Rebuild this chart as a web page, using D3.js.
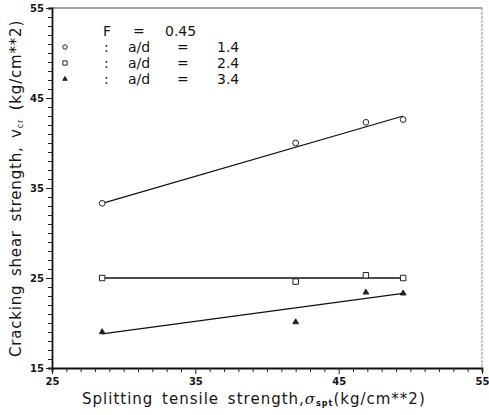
<!DOCTYPE html>
<html>
<head>
<meta charset="utf-8">
<script src="https://cdn.jsdelivr.net/npm/d3@7"></script>
<style>
  html, body { margin: 0; padding: 0; background: #fff; }
  svg { display: block; }
  text { font-family: "DejaVu Sans", "Liberation Sans", sans-serif; fill: #151515; }
</style>
</head>
<body>
<svg id="chart" width="489" height="415"></svg>
<script>
// Splitting tensile strength (kg/cm**2) of the tested beams
const xValues = [28.5, 42.0, 46.9, 49.5];

// Cracking shear strength (kg/cm**2) for each shear span ratio
const ratios = [1.4, 2.4, 3.4];
const shearAD14 = [33.3, 40.0, 42.3, 42.6];
const shearAD24 = [25.0, 24.6, 25.3, 25.0];
const shearAD34 = [19.0, 20.1, 23.4, 23.3];

// Fitted straight lines: value at first and last tensile strength
const fitX = [28.5, 49.5];
const fitAD14 = [33.3, 43.0];
const fitAD24 = [25.0, 25.0];
const fitAD34 = [18.8, 23.3];

const fiberFactor = 0.45;
const xTicks = [25, 35, 45, 55];
const yTicks = [15, 25, 35, 45, 55];

const svg = d3.select("#chart");
const plotLeft = 52, plotRight = 482, plotTop = 8, plotBottom = 368;

const x = d3.scaleLinear().domain([25, 55]).range([plotLeft, plotRight]);
const y = d3.scaleLinear().domain([15, 55]).range([plotBottom, plotTop]);

// Frame: top and right edges are lighter
svg.append("line").attr("x1", plotLeft).attr("x2", plotRight).attr("y1", plotTop).attr("y2", plotTop)
  .attr("stroke", "#444").attr("stroke-width", 1.2);
svg.append("line").attr("x1", plotRight).attr("x2", plotRight).attr("y1", plotTop).attr("y2", plotBottom)
  .attr("stroke", "#888").attr("stroke-width", 1).attr("stroke-dasharray", "3,1");

// Axes with unit minor ticks
const xAxis = d3.axisBottom(x).tickValues(d3.range(25, 56, 1))
  .tickFormat(d => xTicks.includes(d) ? d : "").tickSize(4).tickPadding(6);
const yAxis = d3.axisLeft(y).tickValues(d3.range(15, 56, 1))
  .tickFormat(d => yTicks.includes(d) ? d : "").tickSize(4).tickPadding(4);

const gx = svg.append("g").attr("transform", `translate(0,${plotBottom})`).call(xAxis);
const gy = svg.append("g").attr("transform", `translate(${plotLeft},0)`).call(yAxis);
[gx, gy].forEach(g => {
  g.select(".domain").attr("stroke", "#111").attr("stroke-width", 1.8);
  g.selectAll(".tick line").attr("stroke", "#222").attr("stroke-width", 1);
  g.selectAll(".tick text").attr("font-size", 10).attr("font-weight", "bold")
    .attr("font-family", "DejaVu Sans, sans-serif").attr("fill", "#222");
});
gx.selectAll(".tick").filter(d => xTicks.includes(d)).select("line").attr("y2", 6);
gy.selectAll(".tick").filter(d => yTicks.includes(d)).select("line").attr("x2", -6);

// Fitted lines
const fits = [fitAD14, fitAD24, fitAD34];
const line = d3.line().x(d => x(d[0])).y(d => y(d[1]));
fits.forEach(f => {
  svg.append("path").datum(fitX.map((v, i) => [v, f[i]]))
    .attr("d", line).attr("fill", "none").attr("stroke", "#111").attr("stroke-width", 1.3);
});

// Data markers
const series = [
  { values: shearAD14, symbol: d3.symbolCircle, size: 26, fill: "#fff" },
  { values: shearAD24, symbol: d3.symbolSquare, size: 30, fill: "#fff" },
  { values: shearAD34, symbol: d3.symbolTriangle, size: 14, fill: "#222" }
];
series.forEach(s => {
  svg.append("g").selectAll("path").data(s.values).join("path")
    .attr("transform", (d, i) => `translate(${x(xValues[i])},${y(d)})`)
    .attr("d", d3.symbol().type(s.symbol).size(s.size))
    .attr("fill", s.fill).attr("stroke", "#222").attr("stroke-width", 1);
});

// Legend
const lg = svg.append("g").attr("font-size", 14).attr("fill", "#151515");
lg.append("text").attr("x", 103).attr("y", 36).text("F");
lg.append("text").attr("x", 133).attr("y", 36).text("=");
lg.append("text").attr("x", 165).attr("y", 36).text(fiberFactor.toFixed(2));
const rowY = [52, 68, 84];
series.forEach((s, i) => {
  lg.append("path").attr("transform", `translate(65,${rowY[i] - 5})`)
    .attr("d", d3.symbol().type(s.symbol).size(s.size * 0.6))
    .attr("fill", s.fill).attr("stroke", "#222").attr("stroke-width", 1);
  lg.append("text").attr("x", 104).attr("y", rowY[i]).text(":");
  lg.append("text").attr("x", 128).attr("y", rowY[i]).text("a/d");
  lg.append("text").attr("x", 177).attr("y", rowY[i]).text("=");
  lg.append("text").attr("x", 217).attr("y", rowY[i]).text(ratios[i].toFixed(1));
});

// Axis titles
const xt = svg.append("text").attr("x", 82).attr("y", 404).attr("font-size", 15)
  .attr("letter-spacing", 1).attr("word-spacing", 3);
xt.append("tspan").text("Splitting tensile strength,");
xt.append("tspan").attr("font-style", "italic").attr("font-family", "DejaVu Serif, serif").text("σ");
xt.append("tspan").attr("font-size", 8).attr("font-weight", "bold").attr("dy", 2).text("spt");
xt.append("tspan").attr("dy", -2).text("(kg/cm**2)");

const yt = svg.append("text").attr("transform", "translate(21,357) rotate(-90)")
  .attr("font-size", 15).attr("letter-spacing", 0.8).attr("word-spacing", 3);
yt.append("tspan").text("Cracking shear strength, v");
yt.append("tspan").attr("font-size", 8).attr("dy", 2).text("cr");
yt.append("tspan").attr("dy", -2).text(" (kg/cm**2)");
</script>
</body>
</html>
